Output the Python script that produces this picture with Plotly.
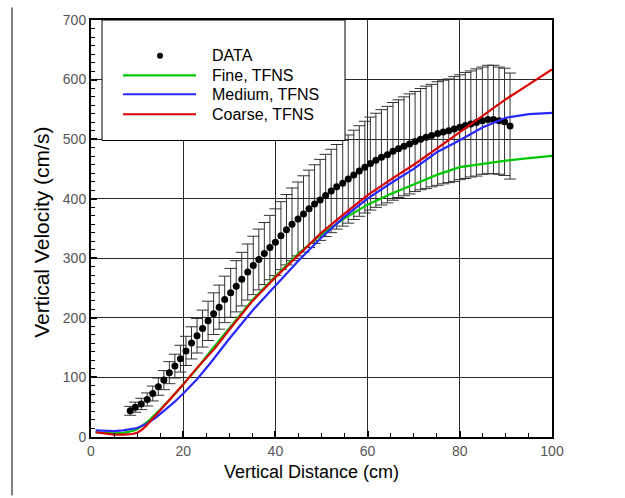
import plotly.graph_objects as go

# Measured vertical velocity along the vertical distance, with uncertainty
data_x = [8.5, 9.6, 10.9, 12.2, 13.4, 14.6, 15.8, 17.0, 18.2, 19.4,
          20.6, 21.8, 23.0, 24.2, 25.4, 26.6, 27.8, 29.0, 30.3, 31.5,
          32.7, 34.0, 35.2, 36.4, 37.6, 38.8, 40.0, 41.2, 42.4, 43.6,
          44.9, 46.1, 47.3, 48.5, 49.7, 50.9, 52.1, 53.3, 54.6, 55.8,
          57.0, 58.2, 59.4, 60.6, 61.8, 63.0, 64.3, 65.5, 66.7, 67.9,
          69.1, 70.3, 71.5, 72.7, 73.9, 75.2, 76.4, 77.6, 78.8, 80.0,
          81.2, 82.4, 83.6, 84.9, 86.1, 87.3, 88.5, 89.7, 90.9]
data_v = [44, 50, 55.5, 63, 73, 84.5, 95.5, 108, 119, 131.5,
          144.5, 158, 170, 182, 195, 207, 218, 231, 242, 253,
          265, 277, 288, 298, 308, 318, 327, 338, 348, 357,
          366, 374.5, 383, 391, 398, 405.5, 413, 420, 426, 433,
          440, 446.5, 453, 459, 464.5, 469.5, 474, 479.5, 484, 488,
          492, 496, 500, 503, 506, 509.5, 512, 514, 517, 520,
          523, 525.5, 528, 531, 533, 533, 531, 529, 522]
data_err = [7.5, 8.5, 9.5, 11, 12.5, 14.5, 16, 18.5, 20, 22.5,
            24.5, 27, 29, 31, 33, 35, 37, 39, 41, 43,
            45, 47, 49, 51, 52, 54, 56, 57, 59, 61,
            62, 64, 65, 66, 68, 69, 70, 71, 72, 74,
            75, 76, 77, 78, 79, 80, 81, 82, 82, 83,
            84, 84, 85, 86, 86, 87, 87, 87, 88, 88,
            89, 89, 90, 90, 91, 91, 90, 90, 89]

# TFNS simulations on three grids
fine_x = [1, 3, 5, 7, 9, 10, 11, 12, 13, 14, 15, 17, 20, 23, 26, 30, 35, 40,
          45, 50, 55, 60, 65, 70, 75, 80, 85, 90, 95, 100]
fine_v = [8, 7, 6, 7, 10, 13, 18, 24, 31, 38, 46, 62, 88, 115, 145, 183, 230, 270,
          308, 340, 367, 390, 408, 424, 440, 453, 459, 464, 468, 472]

medium_x = [1, 3, 5, 7, 9, 10, 12, 14, 16, 18, 20, 23, 26, 30, 35, 40, 45, 50,
            55, 60, 65, 70, 75, 80, 85, 90, 95, 100]
medium_v = [11, 10, 10, 11, 13, 15, 22, 32, 45, 58, 73, 97, 125, 165, 212, 254, 296, 335,
            370, 400, 426, 450, 478, 498, 520, 536, 542, 544]

coarse_x = [1, 3, 5, 7, 9, 10, 11, 12, 13, 15, 17, 20, 23, 27, 30, 35, 40, 45, 50,
            55, 60, 65, 70, 75, 80, 85, 90, 95, 100]
coarse_v = [8, 6, 4, 4, 5, 7, 12, 19, 28, 45, 62, 88, 116, 150, 180, 228, 268, 305, 343,
            375, 406, 432, 457, 484, 512, 540, 567, 592, 617]

series_names = ["DATA", "Fine, TFNS", "Medium, TFNS", "Coarse, TFNS"]
line_colors = ["#00c800", "#2828ff", "#dc0000"]

x_ticks = [0, 20, 40, 60, 80, 100]
y_ticks = [0, 100, 200, 300, 400, 500, 600, 700]

FONT = "Arial, Liberation Sans, Helvetica, sans-serif"

fig = go.Figure()

fig.add_trace(go.Scatter(
    x=data_x, y=data_v, mode="markers", name=series_names[0],
    marker=dict(color="black", size=7, symbol="circle"),
    error_y=dict(type="data", array=data_err, visible=True,
                 color="#333333", thickness=1, width=6),
))
for name, xs, vs, col in zip(series_names[1:], [fine_x, medium_x, coarse_x],
                             [fine_v, medium_v, coarse_v], line_colors):
    fig.add_trace(go.Scatter(x=xs, y=vs, mode="lines", name=name,
                             line=dict(color=col, width=2.2)))

axis_common = dict(
    showline=True, linecolor="black", linewidth=2, mirror=True,
    showgrid=True, gridcolor="#2a2a2a", gridwidth=1,
    ticks="inside", ticklen=6, tickwidth=1.5, tickcolor="black",
    tickfont=dict(family=FONT, size=14, color="#555555"),
    zeroline=False,
)

fig.update_xaxes(range=[0, 100], tickvals=x_ticks,
                 minor=dict(dtick=5, ticks="inside", ticklen=4, tickcolor="black",
                            tickwidth=1, showgrid=False),
                 **axis_common)
fig.update_yaxes(range=[0, 700], tickvals=y_ticks,
                 minor=dict(tick0=0, dtick=100 / 7, ticks="inside", ticklen=4,
                            tickcolor="black", tickwidth=1, showgrid=False),
                 **axis_common)

# Key box in the upper-left corner of the plot (white fill hides the grid)
fig.add_shape(type="rect", xref="paper", yref="paper",
              x0=0.0239, x1=0.551, y0=0.711, y1=1.0,
              fillcolor="white", line=dict(color="black", width=1), layer="above")

key_rows_y = [0.9145, 0.867, 0.822, 0.774]
# symbol for the measured points
fig.add_shape(type="circle", xref="paper", yref="paper",
              xsizemode="pixel", ysizemode="pixel",
              xanchor=0.1497, yanchor=key_rows_y[0],
              x0=-3, x1=3, y0=-3, y1=3,
              fillcolor="black", line=dict(color="black", width=0), layer="above")
# line samples for the simulations
for ky, col in zip(key_rows_y[1:], line_colors):
    fig.add_shape(type="line", xref="paper", yref="paper",
                  x0=0.0694, x1=0.2278, y0=ky, y1=ky,
                  line=dict(color=col, width=2.2), layer="above")
for ky, name in zip(key_rows_y, series_names):
    fig.add_annotation(text=name, xref="paper", yref="paper",
                       x=0.2581, y=ky, xanchor="left", yanchor="middle",
                       showarrow=False,
                       font=dict(family=FONT, size=16, color="black"))

# page border line on the left
fig.add_shape(type="line", xref="paper", yref="paper",
              x0=-0.1714, x1=-0.1714, y0=1.03, y1=-0.14,
              line=dict(color="black", width=1))

fig.add_annotation(text="Vertical Distance (cm)", xref="paper", yref="paper",
                   x=0.479, y=-0.083, xanchor="center", yanchor="middle",
                   showarrow=False,
                   font=dict(family=FONT, size=18, color="black"))
fig.add_annotation(text="Vertical Velocity (cm/s)", xref="paper", yref="paper",
                   x=-0.1063, y=0.492, xanchor="center", yanchor="middle",
                   showarrow=False, textangle=-90,
                   font=dict(family=FONT, size=21, color="black"))

fig.update_layout(
    width=625, height=498,
    margin=dict(l=91, r=73, t=16, b=61),
    paper_bgcolor="white", plot_bgcolor="white",
    showlegend=False,
)

fig.write_html("out.html")
